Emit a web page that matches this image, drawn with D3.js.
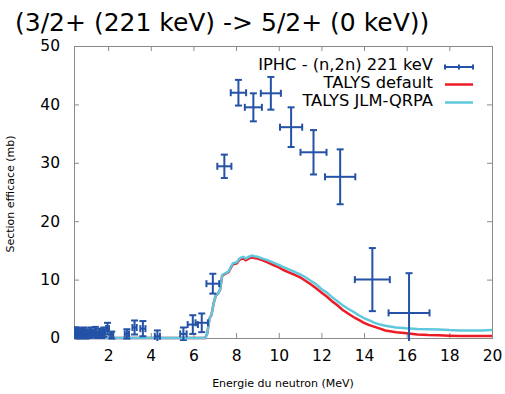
<!DOCTYPE html>
<html><head><meta charset="utf-8">
<script src="https://cdn.jsdelivr.net/npm/d3@7"></script>
<style>body{margin:0;background:#fff}svg{display:block}text{font-family:"DejaVu Sans",sans-serif}</style>
</head><body><svg id="c" width="505" height="394"></svg>
<script>
// ---- data ----
const title = "(3/2+ (221 keV) -> 5/2+ (0 keV))";
const xLabel = "Energie du neutron (MeV)";
const yLabel = "Section efficace (mb)";
const xTicks = [2,4,6,8,10,12,14,16,18,20];
const yTicks = [0,10,20,30,40,50];
const seriesNames = ["IPHC - (n,2n) 221 keV","TALYS default","TALYS JLM-QRPA"];

// experimental points (IPHC)
const expE  = [0.47,0.55,0.63,0.71,0.79,0.87,0.95,1.03,1.11,1.2,1.3,1.4,1.5,1.6,1.7,1.8,1.97,2.17,2.88,3.24,3.63,4.31,5.53,5.97,6.39,6.91,7.45,8.11,8.81,9.63,10.58,11.63,12.88,14.39,16.11];
const expV  = [0.9,1.0,0.6,0.9,0.7,1.0,0.5,0.8,0.6,1.0,0.7,1.1,0.5,0.9,0.6,1.0,1.6,0.5,0.7,1.8,1.6,0.3,0.7,2.3,2.6,9.3,29.4,42.0,39.5,41.9,36.1,31.8,27.6,10.0,4.3];
const expDE = [0.04,0.04,0.04,0.04,0.04,0.04,0.04,0.04,0.04,0.05,0.05,0.05,0.05,0.05,0.05,0.06,0.07,0.07,0.1,0.1,0.12,0.12,0.15,0.24,0.29,0.3,0.33,0.36,0.4,0.47,0.52,0.61,0.71,0.82,0.96];
const expDV = [0.9,0.8,0.7,0.7,0.7,0.8,0.6,0.7,0.6,0.8,0.6,0.8,0.5,0.7,0.6,0.8,1.0,0.6,0.8,1.2,1.3,1.0,1.1,1.6,1.6,1.7,2.0,2.2,2.4,2.8,3.4,3.8,4.7,5.4,6.8];

// TALYS curves
const curveE = [0.4,6.55,6.65,6.75,6.85,6.95,7.05,7.15,7.25,7.35,7.45,7.55,7.65,7.75,7.85,7.95,8.05,8.15,8.25,8.35,8.45,8.55,8.65,8.75,8.85,9.0,9.25,9.5,9.75,10.0,10.25,10.5,10.75,11.0,11.25,11.5,11.75,12.0,12.25,12.5,12.75,13.0,13.25,13.5,13.75,14.0,14.25,14.5,14.75,15.0,15.5,16.0,16.5,17.0,17.5,18.0,18.5,19.0,19.5,20.0];
const talysDefault = [0,0,0.8,3.3,4.0,6.0,7.3,7.6,8.3,10.7,10.9,11.1,11.3,12.0,12.6,12.7,12.8,13.4,13.5,13.6,13.3,13.5,13.7,13.8,13.7,13.6,13.3,12.9,12.5,12.1,11.6,11.2,10.8,10.4,9.8,9.2,8.5,7.8,7.1,6.3,5.6,4.8,4.2,3.6,3.1,2.6,2.2,1.9,1.6,1.3,1.0,0.8,0.6,0.5,0.45,0.4,0.35,0.35,0.35,0.35];
const talysJLM = [0,0,0.8,3.3,4.0,6.0,7.3,7.6,8.3,10.8,11.0,11.2,11.4,12.2,12.8,12.9,13.0,13.6,13.8,13.9,13.6,13.8,14.0,14.1,14.0,13.9,13.6,13.3,12.9,12.5,12.1,11.7,11.3,10.9,10.4,9.8,9.2,8.4,7.8,7.0,6.3,5.6,5.0,4.5,3.9,3.4,3.0,2.6,2.3,2.1,1.8,1.65,1.55,1.5,1.45,1.35,1.3,1.3,1.3,1.35];

// ---- drawing ----
const svg = d3.select("#c");
const L=74, R=492, T=46, B=338;
const x = d3.scaleLinear().domain([0.4,20]).range([L,R]);
const y = d3.scaleLinear().domain([0,50]).range([B,T]);
const blue="#2352a6", red="#ec1c24", cyan="#5fc8dd", frame="#8a8a8a";

svg.append("text").attr("x",15).attr("y",31).attr("font-size",25).attr("fill","#000").text(title);

svg.append("defs").append("clipPath").attr("id","clip").append("rect")
  .attr("x",L).attr("y",T-2).attr("width",R-L).attr("height",B-T+5);

// axes (ticks inward)
const ax = svg.append("g");
ax.append("g").attr("transform",`translate(0,${B})`)
  .call(d3.axisBottom(x).tickValues(xTicks).tickSize(-5).tickPadding(12).tickFormat(d3.format("d")));
ax.append("g").attr("transform",`translate(0,${T})`)
  .call(d3.axisTop(x).tickValues(xTicks).tickSize(-5).tickFormat(""));
ax.append("g").attr("transform",`translate(${L},0)`)
  .call(d3.axisLeft(y).tickValues(yTicks).tickSize(-5).tickPadding(14).tickFormat(d3.format("d")));
ax.append("g").attr("transform",`translate(${R},0)`)
  .call(d3.axisRight(y).tickValues(yTicks).tickSize(-5).tickFormat(""));
ax.selectAll(".domain").attr("stroke",frame);
ax.selectAll(".tick line").attr("stroke",frame);
ax.selectAll(".tick text").attr("font-size",15.5).attr("fill","#000").attr("font-family","DejaVu Sans");

svg.append("text").attr("x",283).attr("y",387).attr("text-anchor","middle").attr("font-size",11).text(xLabel);
svg.append("text").attr("transform","translate(14,194) rotate(-90)").attr("text-anchor","middle").attr("font-size",11).text(yLabel);

const plot = svg.append("g").attr("clip-path","url(#clip)");
const line = d3.line().x(d=>x(d[0])).y(d=>y(d[1]));
plot.append("path").datum(curveE.map((e,i)=>[e,talysDefault[i]]))
  .attr("d",line).attr("fill","none").attr("stroke",red).attr("stroke-width",2.5);
plot.append("path").datum(curveE.map((e,i)=>[e,talysJLM[i]]))
  .attr("d",line).attr("fill","none").attr("stroke",cyan).attr("stroke-width",2.5);

// error bars
const cap=3.5;
const eb = plot.append("g").attr("stroke",blue).attr("stroke-width",2);
expE.forEach((e,i)=>{
  const cx=x(e), cy=y(expV[i]);
  const x0=x(e-expDE[i]), x1=x(e+expDE[i]);
  const y0=y(expV[i]-expDV[i]), y1=y(expV[i]+expDV[i]);
  eb.append("line").attr("x1",x0).attr("x2",x1).attr("y1",cy).attr("y2",cy);
  eb.append("line").attr("x1",cx).attr("x2",cx).attr("y1",y0).attr("y2",y1);
  [x0,x1].forEach(v=>eb.append("line").attr("x1",v).attr("x2",v).attr("y1",cy-cap).attr("y2",cy+cap));
  [y0,y1].forEach(v=>eb.append("line").attr("x1",cx-cap).attr("x2",cx+cap).attr("y1",v).attr("y2",v));
});

// legend
const lg = svg.append("g");
const rows=[64,82,100];
seriesNames.forEach((n,i)=>{
  lg.append("text").attr("x",433).attr("y",rows[i]).attr("dy","0.35em").attr("text-anchor","end")
    .attr("font-size",16.3).text(n);
});
const ly=rows[0]+3;
lg.append("line").attr("x1",445).attr("x2",473).attr("y1",ly).attr("y2",ly).attr("stroke",blue).attr("stroke-width",2);
[445,459,473].forEach(v=>lg.append("line").attr("x1",v).attr("x2",v).attr("y1",ly-2.5).attr("y2",ly+2.5).attr("stroke",blue).attr("stroke-width",2));
lg.append("line").attr("x1",445).attr("x2",473).attr("y1",rows[1]+2.5).attr("y2",rows[1]+2.5).attr("stroke",red).attr("stroke-width",2.5);
lg.append("line").attr("x1",445).attr("x2",473).attr("y1",rows[2]+2.5).attr("y2",rows[2]+2.5).attr("stroke",cyan).attr("stroke-width",2.5);
</script></body></html>
